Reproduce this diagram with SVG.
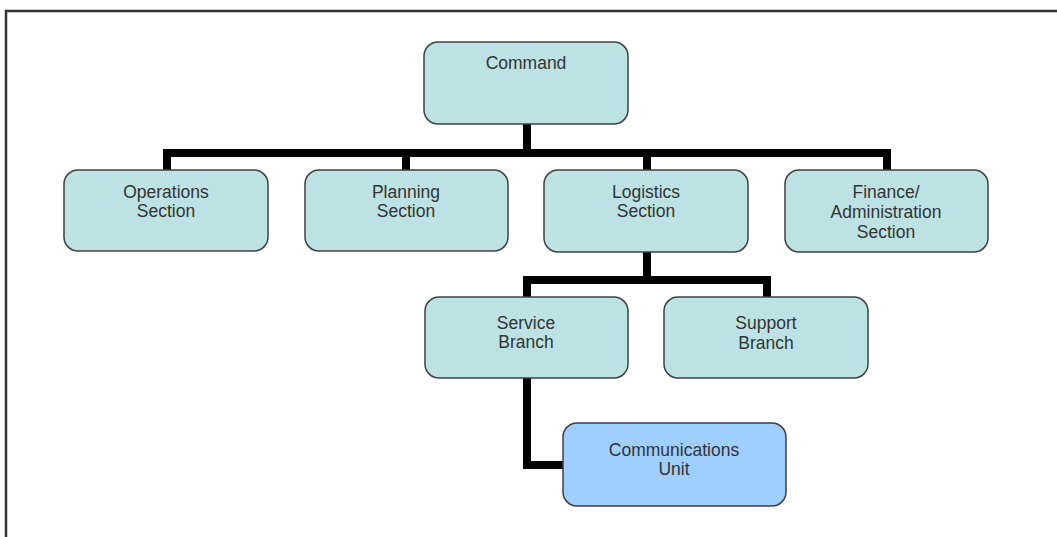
<svg xmlns="http://www.w3.org/2000/svg" width="1057" height="537" viewBox="0 0 1057 537">
<style>
.box{fill:#bde2e4;stroke:#404040;stroke-width:1.5}
.unit{fill:#9ecfff;stroke:#404040;stroke-width:1.5}
.lbl{font-family:"Liberation Sans",Arial,sans-serif;font-size:17.5px;fill:#333;text-anchor:middle}
.conn{fill:none;stroke:#000;stroke-width:8;stroke-linejoin:miter}
</style>
<rect width="1057" height="537" fill="#fff"/>
<path d="M6,537 V11 H1057" fill="none" stroke="#333" stroke-width="2.5"/>
<g id="connectors">
<path class="conn" d="M527,124 V153"/>
<path class="conn" d="M167,170 V153 H887 V170"/>
<path class="conn" d="M406,153 V170"/>
<path class="conn" d="M647,153 V170"/>
<path class="conn" d="M647,252 V280"/>
<path class="conn" d="M527,297 V280 H767 V297"/>
<path class="conn" d="M527,378 V465 H563"/>
</g>
<g id="command"><rect class="box" x="424" y="42" width="204" height="82" rx="14"/><text class="lbl" x="526" y="69">Command</text></g>
<g id="operations"><rect class="box" x="64" y="170" width="204" height="81" rx="14"/><text class="lbl" x="166" y="198">Operations</text><text class="lbl" x="166" y="217">Section</text></g>
<g id="planning"><rect class="box" x="305" y="170" width="203" height="81" rx="14"/><text class="lbl" x="406" y="198">Planning</text><text class="lbl" x="406" y="217">Section</text></g>
<g id="logistics"><rect class="box" x="544" y="170" width="204" height="82" rx="14"/><text class="lbl" x="646" y="198">Logistics</text><text class="lbl" x="646" y="217">Section</text></g>
<g id="finance"><rect class="box" x="785" y="170" width="203" height="82" rx="14"/><text class="lbl" x="886" y="198">Finance/</text><text class="lbl" x="886" y="218">Administration</text><text class="lbl" x="886" y="238">Section</text></g>
<g id="service"><rect class="box" x="425" y="297" width="203" height="81" rx="14"/><text class="lbl" x="526" y="329">Service</text><text class="lbl" x="526" y="348">Branch</text></g>
<g id="support"><rect class="box" x="664" y="297" width="204" height="81" rx="14"/><text class="lbl" x="766" y="329">Support</text><text class="lbl" x="766" y="349">Branch</text></g>
<g id="communications"><rect class="unit" x="563" y="423" width="223" height="83" rx="14"/><text class="lbl" x="674" y="456">Communications</text><text class="lbl" x="674" y="475">Unit</text></g>
</svg>
